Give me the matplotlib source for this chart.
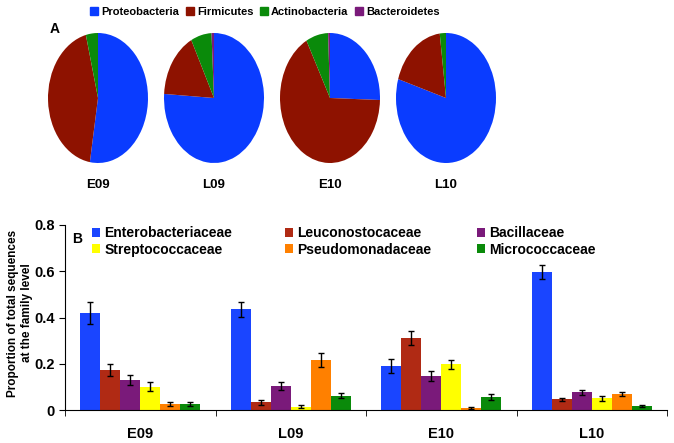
import numpy as np
import matplotlib
matplotlib.use("Agg")
import matplotlib.pyplot as plt
from matplotlib.patches import Patch
from matplotlib.legend import Legend

plt.rcParams['font.family'] = ['Liberation Sans', 'DejaVu Sans']
plt.rcParams['font.weight'] = 'bold'

# --- datos panel A (phylum) ---
samples = ['E09', 'L09', 'E10', 'L10']
phyla = ['Proteobacteria', 'Firmicutes', 'Actinobacteria', 'Bacteroidetes']
proteo = [0.526, 0.760, 0.255, 0.797]
firmic = [0.435, 0.165, 0.667, 0.183]
actino = [0.039, 0.067, 0.072, 0.020]
bacter = [0.000, 0.008, 0.006, 0.000]
pie_colors = ['#0A3CFF', '#8E1200', '#0A8A0A', '#7A1A7A']

# --- datos panel B (family) ---
families = ['Enterobacteriaceae', 'Leuconostocaceae', 'Bacillaceae',
            'Streptococcaceae', 'Pseudomonadaceae', 'Micrococcaceae']
entero = [0.418, 0.435, 0.190, 0.597]
leucon = [0.173, 0.033, 0.310, 0.046]
bacill = [0.130, 0.104, 0.147, 0.076]
strep = [0.101, 0.014, 0.197, 0.050]
pseudo = [0.026, 0.216, 0.007, 0.069]
micro = [0.026, 0.061, 0.058, 0.017]
entero_err = [0.048, 0.031, 0.029, 0.029]
leucon_err = [0.026, 0.010, 0.030, 0.006]
bacill_err = [0.021, 0.019, 0.020, 0.010]
strep_err = [0.019, 0.007, 0.018, 0.009]
pseudo_err = [0.010, 0.029, 0.004, 0.010]
micro_err = [0.007, 0.011, 0.013, 0.005]
bar_colors = ['#1A45FF', '#B02A14', '#7A1A7A', '#FFFF00', '#FF8000', '#0A8A0A']

W, H = 674, 443
fig = plt.figure(figsize=(W / 100, H / 100), dpi=100)

# pies
centers = [98, 214, 330, 446]
for i, s in enumerate(samples):
    cx = centers[i]
    ax = fig.add_axes([(cx - 50) / W, (H - 163) / H, 100 / W, 130 / H])
    vals = [proteo[i], firmic[i], actino[i], bacter[i]]
    ax.pie(vals, colors=pie_colors, startangle=90, counterclock=False,
           wedgeprops=dict(linewidth=0))
    ax.set_aspect('auto')
    ax.set_xlim(-1, 1)
    ax.set_ylim(-1, 1)
    fig.text(cx / W, 1 - 185 / H, s, ha='center', va='center', fontsize=9.5,
             fontweight='bold')

fig.text(55 / W, 1 - 29 / H, 'A', ha='center', va='center', fontsize=10, fontweight='bold')
fig.legend(handles=[Patch(color=c, label=p) for c, p in zip(pie_colors, phyla)],
           loc='center', bbox_to_anchor=(265 / W, 1 - 12 / H), ncol=4, frameon=False,
           handlelength=0.7, handleheight=0.7, handletextpad=0.3,
           columnspacing=0.6, borderaxespad=0,
           prop=dict(weight='bold', size=8))

# barras
ax = fig.add_axes([65 / W, 33 / H, 602 / W, 185 / H])
series = [entero, leucon, bacill, strep, pseudo, micro]
errs = [entero_err, leucon_err, bacill_err, strep_err, pseudo_err, micro_err]
x = np.arange(len(samples))
bw = 0.133
handles = []
for j in range(6):
    b = ax.bar(x + (j - 2.5) * bw, series[j], bw, color=bar_colors[j], label=families[j],
               yerr=errs[j], capsize=2.5, error_kw=dict(elinewidth=1, ecolor='black', capthick=1))
    handles.append(b)

ax.set_xlim(-0.5, 3.5)
ax.set_ylim(0, 0.8)
ax.set_yticks([0, 0.2, 0.4, 0.6, 0.8])
ax.set_yticklabels(['0', '0.2', '0.4', '0.6', '0.8'], fontsize=10.5, fontweight='bold')
ax.set_xticks(x)
ax.set_xticklabels(samples, fontsize=10.5, fontweight='bold')
ax.set_xticks([-0.5, 0.5, 1.5, 2.5, 3.5], minor=True)
ax.tick_params(axis='x', which='major', length=0, pad=12)
ax.tick_params(axis='x', which='minor', length=4, direction='out')
ax.tick_params(axis='y', length=4, direction='out')
for sp in ['top', 'right']:
    ax.spines[sp].set_visible(False)
fig.text(20 / W, 1 - 313 / H, 'Proportion of total sequences\nat the family level',
         rotation=90, ha='center', va='center', fontsize=8.5, fontweight='bold',
         linespacing=1.3)
ax.text(0.012, 0.96, 'B', transform=ax.transAxes, fontsize=10, fontweight='bold',
        ha='left', va='top')

# leyenda en 3 columnas, orden por filas
col_x = [92, 285, 477]
for c in range(3):
    leg = Legend(ax, [handles[c], handles[c + 3]], [families[c], families[c + 3]],
                 loc='upper left', bbox_to_anchor=((col_x[c] - 65) / 602, 1 - 1 / 185),
                 frameon=False, handlelength=0.6, handleheight=0.6, handletextpad=0.3,
                 labelspacing=0.2, borderaxespad=0, borderpad=0,
                 prop=dict(weight='bold', size=10))
    ax.add_artist(leg)

fig.savefig('out.png', dpi=100)
